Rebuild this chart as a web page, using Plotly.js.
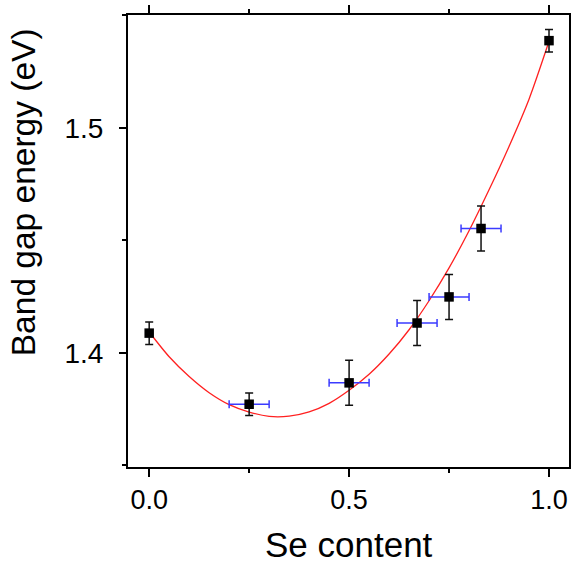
<!DOCTYPE html>
<html>
<head>
<meta charset="utf-8">
<script src="https://cdn.plot.ly/plotly-3.0.1.min.js"></script>
<style>html,body{margin:0;padding:0;background:#fff;}#chart{width:571px;height:565px;}</style>
</head>
<body>
<div id="chart"></div>
<script>
// Measured data
const seContent = [0.0, 0.25, 0.5, 0.67, 0.75, 0.83, 1.0];
const bandGap   = [1.4088, 1.3772, 1.3867, 1.4133, 1.4249, 1.4553, 1.5388];
const bandGapErr = [0.005, 0.005, 0.01, 0.01, 0.01, 0.01, 0.005];
const seContentErr = [0, 0.05, 0.05, 0.05, 0.05, 0.05, 0];

// Fitted curve
const fitX = [0.0, 0.05, 0.10, 0.15, 0.20, 0.25, 0.30, 0.35, 0.40, 0.45, 0.50, 0.55, 0.60, 0.65, 0.70, 0.75, 0.80, 0.85, 0.90, 0.95, 1.0];
const fitY = [1.4093, 1.3983, 1.3895, 1.3823, 1.3770, 1.3737, 1.3718, 1.3719, 1.3738, 1.3776, 1.3834, 1.3905, 1.3995, 1.4103, 1.4232, 1.4378, 1.4543, 1.4725, 1.4918, 1.5128, 1.5385];

const xTickVals = [0, 0.5, 1.0];
const xTickText = ['0.0', '0.5', '1.0'];
const yTickVals = [1.4, 1.5];
const yTickText = ['1.4', '1.5'];

const FONT = 'Arial, "Liberation Sans", sans-serif';

const traces = [
  {
    x: fitX, y: fitY, type: 'scatter', mode: 'lines',
    line: {color: '#ff2020', width: 1.3, shape: 'spline', smoothing: 0.8},
    hoverinfo: 'skip', showlegend: false
  },
  {
    x: seContent, y: bandGap, type: 'scatter', mode: 'markers',
    marker: {symbol: 'square', size: 9.5, color: '#000000'},
    error_y: {type: 'data', array: bandGapErr, visible: true, color: '#111111', thickness: 1.5, width: 4},
    error_x: {type: 'data', array: seContentErr, visible: true, color: '#3b3bff', thickness: 1.5, width: 4},
    showlegend: false
  }
];

const layout = {
  width: 571, height: 565,
  margin: {l: 128, r: 2, t: 15, b: 98},
  paper_bgcolor: '#ffffff', plot_bgcolor: '#ffffff',
  showlegend: false,
  font: {family: FONT, color: '#000000'},
  xaxis: {
    range: [-0.053, 1.05],
    tickvals: xTickVals, ticktext: xTickText,
    ticks: 'outside', ticklen: 8, tickwidth: 2, tickcolor: '#000',
    minor: {tickvals: [0.25, 0.75], ticks: 'outside', ticklen: 4, tickwidth: 2, tickcolor: '#000'},
    showline: true, linewidth: 2, linecolor: '#000', mirror: 'ticks',
    showgrid: false, zeroline: false,
    tickfont: {family: FONT, size: 27, color: '#000'}
  },
  yaxis: {
    range: [1.3493, 1.5502],
    tickvals: yTickVals, ticktext: yTickText,
    ticks: 'outside', ticklen: 7, tickwidth: 2, tickcolor: '#000',
    minor: {tickvals: [1.35, 1.45, 1.55], ticks: 'outside', ticklen: 4, tickwidth: 2, tickcolor: '#000'},
    showline: true, linewidth: 2, linecolor: '#000', mirror: 'ticks',
    showgrid: false, zeroline: false, ticklabelstandoff: 10,
    tickfont: {family: FONT, size: 28, color: '#000'}
  },
  annotations: [
    {
      text: 'Se content', xref: 'paper', yref: 'paper',
      x: 0.5, y: -0.172, xanchor: 'center', yanchor: 'middle',
      showarrow: false, font: {family: FONT, size: 35, color: '#000'}
    },
    {
      text: 'Band gap energy (eV)', xref: 'paper', yref: 'paper',
      x: -0.238, y: 0.608, xanchor: 'center', yanchor: 'middle', textangle: -90,
      showarrow: false, font: {family: FONT, size: 33.5, color: '#000'}
    }
  ]
};

Plotly.newPlot('chart', traces, layout, {displayModeBar: false, staticPlot: true});
</script>
</body>
</html>
